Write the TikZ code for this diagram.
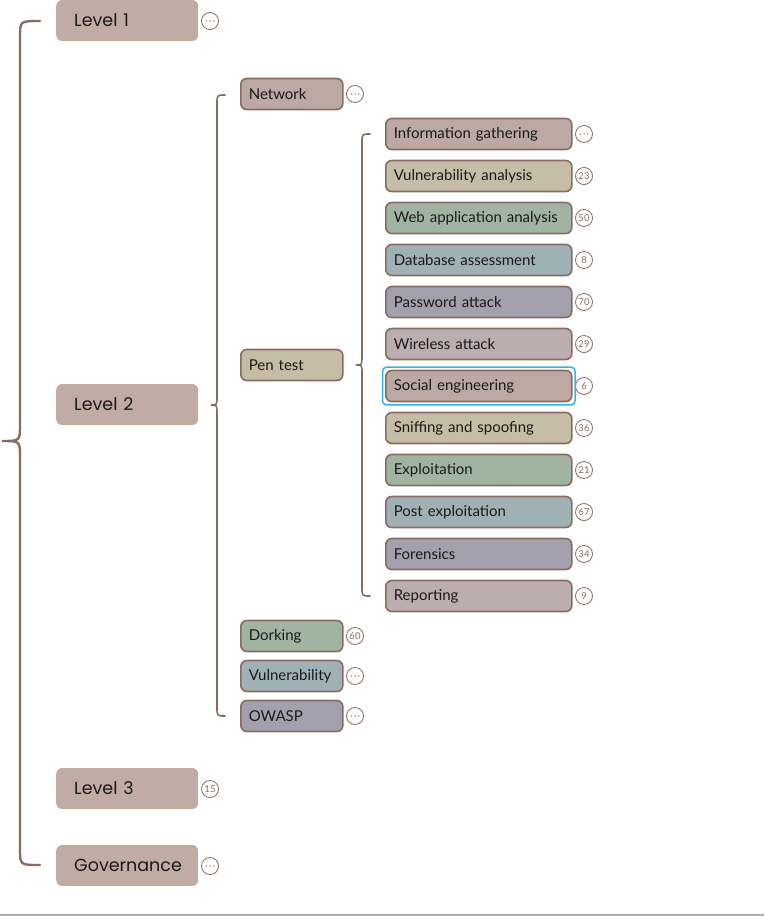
\documentclass[tikz,border=0pt]{standalone}
\usepackage{fontspec}
\newfontfamily\lvlfont{Poppins}
\newfontfamily\itemfont{Lato}
\usetikzlibrary{fit,calc}

\definecolor{edgec}{HTML}{8A6B62}
\definecolor{lvlc}{HTML}{C1ACA5}
\definecolor{brownc}{HTML}{BCA9A3}
\definecolor{khakic}{HTML}{C5BDA5}
\definecolor{greenc}{HTML}{A1B4A2}
\definecolor{bluec}{HTML}{A0B1B5}
\definecolor{purplec}{HTML}{A2A0AC}
\definecolor{pinkc}{HTML}{BCADB0}
\definecolor{inkc}{HTML}{1A1A1A}
\definecolor{selc}{HTML}{2CB5F0}
\definecolor{rulec}{HTML}{B0B0B0}

\tikzset{
  edgeline/.style={draw=edgec, line width=1.6pt, line cap=round},
  topbox/.style={fill=lvlc, rounded corners=6pt, minimum height=41pt,
    text width=106pt, inner xsep=18pt, align=left, anchor=west, text=inkc,
    font=\lvlfont\fontsize{17.5}{20}\selectfont},
  midbox/.style={draw=edgec, line width=1.6pt, rounded corners=6pt,
    minimum height=31pt, text width=86pt, inner xsep=8pt, align=left,
    anchor=west, text=inkc, font=\itemfont\fontsize{15}{17}\selectfont},
  leafbox/.style={midbox, text width=170pt},
  badge/.style={circle, draw=edgec, line width=0.8pt, minimum size=17pt,
    inner sep=0pt, text=edgec, font=\itemfont\fontsize{9.5}{10}\selectfont},
  more/.style={badge, path picture={
    \foreach \dx in {-3.6,0,3.6}
      \fill[edgec] ($(path picture bounding box.center)+(\dx,0)$) circle (0.75pt);}},
  selection/.style={draw=selc, line width=1.5pt, rounded corners=4pt, inner sep=2.5pt},
}

% curly bracket joining a parent to a column of children:
% #1 = x of the spine, #2 = x of the open ends, #3 = x of the tip,
% #4 = top y, #5 = tip y, #6 = bottom y, #7 = curl size
\newcommand{\bracket}[7]{%
  (#2,#4) .. controls (#1,#4) .. (#1,#4+#7)
  -- (#1,#5-#7) .. controls (#1,#5) .. (#3,#5)
  .. controls (#1,#5) .. (#1,#5+#7)
  -- (#1,#6-#7) .. controls (#1,#6) .. (#2,#6)}

\begin{document}
\begin{tikzpicture}[x=1pt, y=-1pt]
\useasboundingbox (0,0) rectangle (764,916);

% top level
\node[topbox] (l1) at (56,20.5) {Level 1};
\node[topbox] (l2) at (56,404.5) {Level 2};
\node[topbox] (l3) at (56,788.5) {Level 3};
\node[topbox] (gov) at (56,865.5) {Governance};
\node[more]  (l1m) at (210,21) {};
\node[badge] (l3m) at (210,789) {15};
\node[more]  (govm) at (210,866) {};

% second level
\node[midbox, fill=brownc]  (net)  at (240,94)  {Network};
\node[midbox, fill=khakic]  (pen)  at (240,365) {Pen test};
\node[midbox, fill=greenc]  (dork) at (240,636) {Dorking};
\node[midbox, fill=bluec]   (vul)  at (240,676) {Vulnerability};
\node[midbox, fill=purplec] (owa)  at (240,716) {OWASP};
\node[more]  (netm)  at (355,94)  {};
\node[badge] (dorkm) at (355,636) {60};
\node[more]  (vulm)  at (355,676) {};
\node[more]  (owam)  at (355,716) {};

% third level
\node[leafbox, fill=brownc]  (ig) at (385,134) {Information gathering};
\node[leafbox, fill=khakic]  (va) at (385,176) {Vulnerability analysis};
\node[leafbox, fill=greenc]  (wa) at (385,218) {Web application analysis};
\node[leafbox, fill=bluec]   (da) at (385,260) {Database assessment};
\node[leafbox, fill=purplec] (pa) at (385,302) {Password attack};
\node[leafbox, fill=pinkc]   (wl) at (385,344) {Wireless attack};
\node[leafbox, fill=brownc]  (se) at (385,386) {Social engineering};
\node[leafbox, fill=khakic]  (ss) at (385,428) {Sniffing and spoofing};
\node[leafbox, fill=greenc]  (ex) at (385,470) {Exploitation};
\node[leafbox, fill=bluec]   (pe) at (385,512) {Post exploitation};
\node[leafbox, fill=purplec] (fo) at (385,554) {Forensics};
\node[leafbox, fill=pinkc]   (re) at (385,596) {Reporting};
\node[more]  (igm) at (584,134) {};
\node[badge] (vam) at (584,176) {23};
\node[badge] (wam) at (584,218) {50};
\node[badge] (dam) at (584,260) {8};
\node[badge] (pam) at (584,302) {70};
\node[badge] (wlm) at (584,344) {29};
\node[badge] (sem) at (584,386) {6};
\node[badge] (ssm) at (584,428) {36};
\node[badge] (exm) at (584,470) {21};
\node[badge] (pem) at (584,512) {67};
\node[badge] (fom) at (584,554) {34};
\node[badge] (rem) at (584,596) {9};

\node[selection, fit=(se)] (sel) {};

% brackets
\draw[edgeline, line width=2.4pt] \bracket{20}{40}{2}{21}{441}{865}{16};
\draw[edgeline] \bracket{217}{225}{211}{95}{405}{716}{9};
\draw[edgeline] \bracket{362}{370}{356}{134}{365}{596}{9};

% bottom rule
\draw[rulec, line width=2pt] (0,915) -- (764,915);
\end{tikzpicture}
\end{document}
